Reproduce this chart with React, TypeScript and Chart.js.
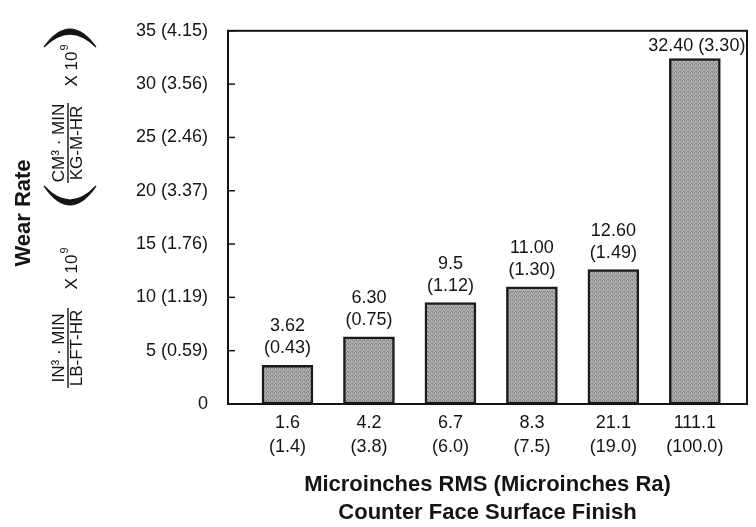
import React, { useEffect, useRef } from "react";
import { Chart, registerables } from "chart.js";

Chart.register(...registerables);

// counter face surface finish, microinches RMS and (Ra)
const finishRms = ["1.6", "4.2", "6.7", "8.3", "21.1", "111.1"];
const finishRa = ["(1.4)", "(3.8)", "(6.0)", "(7.5)", "(19.0)", "(100.0)"];

// wear rate, imperial units (bar heights) and metric values as printed
const wearRate = [3.62, 6.3, 9.5, 11.0, 12.6, 32.4];
const wearRateText = ["3.62", "6.30", "9.5", "11.00", "12.60", "32.40"];
const wearRateMetric = ["(0.43)", "(0.75)", "(1.12)", "(1.30)", "(1.49)", "(3.30)"];

// y axis ticks and the metric values printed beside them
const yTicks = [0, 5, 10, 15, 20, 25, 30, 35];
const yTickMetric = ["", "(0.59)", "(1.19)", "(1.76)", "(3.37)", "(2.46)", "(3.56)", "(4.15)"];

const FONT = "'Liberation Sans', Arial, Helvetica, sans-serif";
const INK = "#141414";

function rotText(ctx: CanvasRenderingContext2D, text: string, x: number, y: number, font: string) {
  ctx.save();
  ctx.translate(x, y);
  ctx.rotate(-Math.PI / 2);
  ctx.font = font;
  ctx.textAlign = "center";
  ctx.textBaseline = "middle";
  ctx.fillText(text, 0, 0);
  ctx.restore();
}

function rotPower(ctx: CanvasRenderingContext2D, x: number, y: number) {
  ctx.save();
  ctx.translate(x, y);
  ctx.rotate(-Math.PI / 2);
  ctx.font = `17px ${FONT}`;
  ctx.textAlign = "center";
  ctx.textBaseline = "middle";
  const w = ctx.measureText("X 10").width;
  ctx.fillText("X 10", -3, 0);
  ctx.font = `11px ${FONT}`;
  ctx.textAlign = "left";
  ctx.fillText("9", w / 2 - 2, -7);
  ctx.restore();
}

function rotFraction(ctx: CanvasRenderingContext2D, top: string, bottom: string, x: number, y: number, len: number) {
  rotText(ctx, top, x - 9, y, `17px ${FONT}`);
  rotText(ctx, bottom, x + 9, y, `17px ${FONT}`);
  ctx.save();
  ctx.strokeStyle = INK;
  ctx.lineWidth = 1.4;
  ctx.beginPath();
  ctx.moveTo(x, y - len / 2);
  ctx.lineTo(x, y + len / 2);
  ctx.stroke();
  ctx.restore();
}

function paren(ctx: CanvasRenderingContext2D, x0: number, x1: number, yEnd: number, outer: number, inner: number) {
  const cx = (x0 + x1) / 2;
  ctx.save();
  ctx.fillStyle = INK;
  ctx.strokeStyle = INK;
  ctx.lineWidth = 1.2;
  ctx.beginPath();
  ctx.moveTo(x0, yEnd);
  ctx.quadraticCurveTo(cx, 2 * outer - yEnd, x1, yEnd);
  ctx.quadraticCurveTo(cx, 2 * inner - yEnd, x0, yEnd);
  ctx.closePath();
  ctx.fill();
  ctx.stroke();
  ctx.restore();
}

const frameAndLabels = {
  id: "frameAndLabels",
  afterDraw(chart: any) {
    const { ctx, chartArea } = chart;
    const yScale = chart.scales.y;

    ctx.save();
    ctx.strokeStyle = INK;
    ctx.lineWidth = 2;
    ctx.strokeRect(chartArea.left, chartArea.top, chartArea.right - chartArea.left, chartArea.bottom - chartArea.top);

    // inward tick marks on the y axis
    ctx.lineWidth = 1.5;
    yTicks.forEach((v) => {
      const py = yScale.getPixelForValue(v);
      ctx.beginPath();
      ctx.moveTo(chartArea.left - 1, py);
      ctx.lineTo(chartArea.left + 7, py);
      ctx.stroke();
    });

    // values above the bars
    ctx.fillStyle = INK;
    ctx.font = `18px ${FONT}`;
    ctx.textAlign = "center";
    ctx.textBaseline = "middle";
    const meta = chart.getDatasetMeta(0);
    meta.data.forEach((bar: any, i: number) => {
      if (i === meta.data.length - 1) {
        ctx.fillText(`${wearRateText[i]} ${wearRateMetric[i]}`, bar.x + 2, bar.y - 12);
      } else {
        ctx.fillText(wearRateText[i], bar.x, bar.y - 39);
        ctx.fillText(wearRateMetric[i], bar.x, bar.y - 17);
      }
    });

    // y axis title
    rotText(ctx, "Wear Rate", 24, 213, `bold 22px ${FONT}`);
    paren(ctx, 44, 96, 47, 29, 34);
    rotPower(ctx, 72, 66);
    rotFraction(ctx, "CM\u00b3 \u00b7 MIN", "KG-M-HR", 68, 143, 80);
    paren(ctx, 44, 96, 186, 205, 200);
    rotPower(ctx, 72, 269);
    rotFraction(ctx, "IN\u00b3 \u00b7 MIN", "LB-FT-HR", 68, 348, 80);
    ctx.restore();
  },
};

function makeStipple(ctx: CanvasRenderingContext2D) {
  const pc = document.createElement("canvas");
  pc.width = 4;
  pc.height = 4;
  const p = pc.getContext("2d")!;
  p.fillStyle = "#b2b2b2";
  p.fillRect(0, 0, 4, 4);
  p.fillStyle = "#858585";
  p.fillRect(0, 0, 1, 1);
  p.fillRect(2, 1, 1, 1);
  p.fillRect(1, 2, 1, 1);
  p.fillRect(3, 3, 1, 1);
  p.fillRect(2, 0, 1, 1);
  p.fillRect(0, 3, 1, 1);
  return ctx.createPattern(pc, "repeat") || "#a0a0a0";
}

export default function App() {
  const chartRef = useRef<HTMLCanvasElement | null>(null);

  useEffect(() => {
    document.body.style.margin = "0";
    const ctx = chartRef.current?.getContext("2d");
    if (!ctx) return;

    const chart = new Chart(ctx, {
      type: "bar",
      data: {
        datasets: [
          {
            data: wearRate.map((v, i) => ({ x: i, y: v })),
            backgroundColor: makeStipple(ctx),
            borderColor: "#1c1c1c",
            borderWidth: 2.5,
            borderSkipped: false,
            barThickness: 51,
          },
        ],
      },
      options: {
        animation: false,
        responsive: true,
        maintainAspectRatio: false,
        layout: { padding: { top: 12, right: 9, left: 0, bottom: 0 } },
        plugins: { legend: { display: false }, tooltip: { enabled: false } },
        scales: {
          x: {
            type: "linear",
            offset: false,
            min: -0.73,
            max: 5.64,
            grid: { display: false, drawTicks: false, tickLength: 0 },
            border: { display: false },
            afterBuildTicks: (s: any) => {
              s.ticks = finishRms.map((_, i) => ({ value: i }));
            },
            afterFit: (s: any) => {
              s.height = 123;
            },
            ticks: {
              autoSkip: false,
              maxRotation: 0,
              padding: 7,
              color: INK,
              font: { family: FONT, size: 18, lineHeight: 24 / 18 },
              callback: (v: any) => [finishRms[Number(v)], finishRa[Number(v)]],
            },
            title: {
              display: true,
              text: ["Microinches RMS (Microinches Ra)", "Counter Face Surface Finish"],
              color: INK,
              padding: 0,
              font: { family: FONT, size: 22, weight: "bold", lineHeight: 28 / 22 },
            },
          },
          y: {
            min: 0,
            max: 35,
            grid: { display: false, drawTicks: false, tickLength: 0 },
            border: { display: false },
            afterBuildTicks: (s: any) => {
              s.ticks = yTicks.map((v) => ({ value: v }));
            },
            afterFit: (s: any) => {
              s.width = 228;
            },
            ticks: {
              padding: 20,
              color: INK,
              font: { family: FONT, size: 18 },
              callback: (v: any) => {
                const i = yTicks.indexOf(Number(v));
                return i > 0 ? `${v} ${yTickMetric[i]}` : `${v}`;
              },
            },
          },
        },
      },
      plugins: [frameAndLabels],
    });

    return () => {
      chart.destroy();
    };
  }, []);

  return (
    <div style={{ width: 756, height: 527, position: "relative" }}>
      <canvas ref={chartRef} />
    </div>
  );
}
